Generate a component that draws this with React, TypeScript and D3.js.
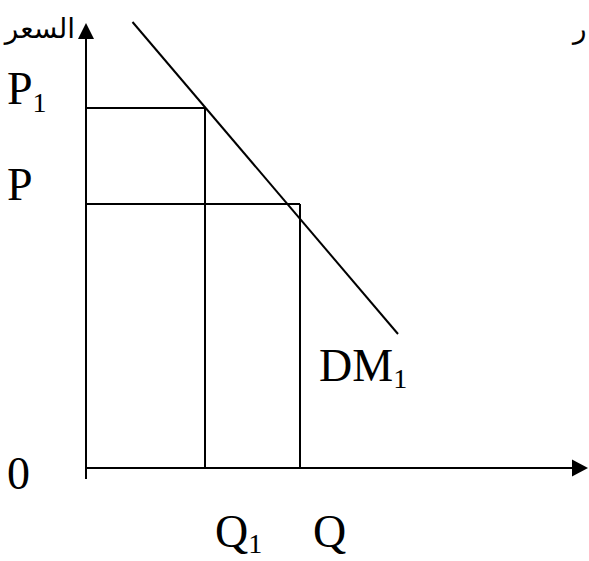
import React from "react";
import * as d3 from "d3";

// Data (units on an abstract 0–100 scale)
const quantityLabels = ["Q", "Q"];
const quantitySubs = ["1", ""];
const quantityValues = [23.8, 42.8];
const priceLabels = ["P", "P"];
const priceSubs = ["1", ""];
const priceValues = [90, 66];
const demandQ = [9.3, 62.4];
const demandP = [111.5, 33.5];
const axisMax = { q: 100.4, p: 111.25, pMin: -2.75 };

const W = 589;
const H = 561;
const SERIF = "'Liberation Serif', 'Times New Roman', serif";
const ARABIC = "'DejaVu Sans', 'Noto Sans', sans-serif";

export default function App() {
  const x = d3.scaleLinear().domain([0, 100]).range([86, 586]);
  const y = d3.scaleLinear().domain([0, 100]).range([468, 68]);
  const line = d3
    .line<[number, number]>()
    .x((d) => x(d[0]))
    .y((d) => y(d[1]));
  const demand: [number, number][] = demandQ.map((q, i) => [q, demandP[i]]);

  const x0 = x(0);
  const y0 = y(0);
  const xTip = x(axisMax.q);
  const yTip = y(axisMax.p);

  return (
    <svg
      width={W}
      height={H}
      style={{ position: "absolute", left: 0, top: 0, background: "#fff" }}
    >
      {/* axes */}
      <line x1={x0} y1={y(axisMax.pMin)} x2={x0} y2={yTip + 14} stroke="#000" strokeWidth={2} />
      <path d={`M${x0},${yTip} L${x0 - 8},${yTip + 16} L${x0 + 8},${yTip + 16} Z`} fill="#000" />
      <line x1={x0} y1={y0} x2={xTip - 14} y2={y0} stroke="#000" strokeWidth={2} />
      <path d={`M${xTip},${y0} L${xTip - 16},${y0 - 8.5} L${xTip - 16},${y0 + 8.5} Z`} fill="#000" />

      {/* price / quantity rectangles */}
      {priceValues.map((p, i) => (
        <g key={"r" + i}>
          <line x1={x0} y1={y(p)} x2={x(quantityValues[i])} y2={y(p)} stroke="#000" strokeWidth={2} />
          <line x1={x(quantityValues[i])} y1={y(p)} x2={x(quantityValues[i])} y2={y0} stroke="#000" strokeWidth={2} />
        </g>
      ))}

      {/* demand line */}
      <path d={line(demand) || ""} fill="none" stroke="#000" strokeWidth={2} />

      {/* price labels */}
      {priceValues.map((p, i) => (
        <text key={"p" + i} x={7} y={y(p) - 4} fontFamily={SERIF} fontSize={46} fill="#000">
          {priceLabels[i]}
          {priceSubs[i] && (
            <tspan fontSize={28} dy={8}>
              {priceSubs[i]}
            </tspan>
          )}
        </text>
      ))}

      {/* quantity labels */}
      {quantityValues.map((q, i) => (
        <text key={"q" + i} x={x(q) + (i === 0 ? 10 : 13)} y={547} fontFamily={SERIF} fontSize={46} fill="#000">
          {quantityLabels[i]}
          {quantitySubs[i] && (
            <tspan fontSize={28} dy={6}>
              {quantitySubs[i]}
            </tspan>
          )}
        </text>
      ))}

      {/* origin */}
      <text x={7} y={489} fontFamily={SERIF} fontSize={46} fill="#000">
        0
      </text>

      {/* demand label */}
      <text x={319} y={381} fontFamily={SERIF} fontSize={46} fill="#000">
        DM
        <tspan fontSize={28} dy={7}>
          1
        </tspan>
      </text>

      {/* Arabic axis labels */}
      <text x={75} y={38} textAnchor="end" fontFamily={ARABIC} fontSize={28} fill="#000">
        السعر
      </text>
      <text x={573} y={38} fontFamily={ARABIC} fontSize={28} fill="#000">
        ر
      </text>
    </svg>
  );
}
